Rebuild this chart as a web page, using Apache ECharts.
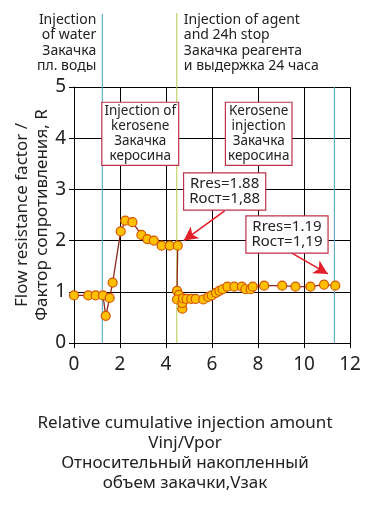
<!DOCTYPE html>
<html>
<head>
<meta charset="utf-8">
<script src="https://cdn.jsdelivr.net/npm/echarts@6/dist/echarts.min.js"></script>
<style>
html,body{margin:0;padding:0;background:#fff;}
#c{width:370px;height:511px;}
</style>
</head>
<body>
<div id="c"></div>
<script>
// ---- data ----
const xValues = [0, 0.62, 0.94, 1.26, 1.38, 1.55, 1.68, 2.03, 2.23, 2.54, 2.93, 3.19, 3.47, 3.81, 4.16, 4.51,
  4.48, 4.57, 4.48, 4.71, 4.71, 4.74, 4.89, 5.10, 5.29, 5.62, 5.84, 5.99, 6.17, 6.32, 6.46, 6.67, 6.97, 7.30,
  7.45, 7.68, 7.77, 8.27, 9.05, 9.63, 10.28, 10.87, 11.36];
const yValues = [0.93, 0.93, 0.93, 0.93, 0.53, 0.88, 1.18, 2.18, 2.39, 2.36, 2.11, 2.03, 2.00, 1.90, 1.90, 1.90,
  1.02, 0.94, 0.85, 0.67, 0.78, 0.87, 0.86, 0.86, 0.86, 0.85, 0.90, 0.93, 0.98, 1.02, 1.05, 1.10, 1.10, 1.10,
  1.05, 1.05, 1.10, 1.12, 1.12, 1.10, 1.10, 1.14, 1.12];
const xTicks = {min: 0, max: 12, interval: 2};
const yTicks = {min: 0, max: 5, interval: 1};
const stageLines = [1.23, 4.47, 11.32];
const yTitle = ['Flow resistance factor /', 'Фактор сопротивления, R'];
const xTitle = ['Relative cumulative injection amount', 'Vinj/Vpor', 'Относительный накопленный', 'объем закачки,Vзак'];
const topLeftText = ['Injection', 'of water', 'Закачка', 'пл. воды'];
const topRightText = ['Injection of agent', 'and 24h stop', 'Закачка реагента', 'и выдержка 24 часа'];
const boxTexts = [
  ['Injection of', 'kerosene', 'Закачка', 'керосина'],
  ['Kerosene', 'injection', 'Закачка', 'керосина'],
  ['Rres=1.88', 'Rост=1,88'],
  ['Rres=1.19', 'Rост=1,19']
];
const boxAnchors = [[2.88, 4.69], [8.03, 4.69], [6.55, 3.31], [9.26, 2.47]];
const arrows = [[[6.55, 2.58], [4.77, 2.0]], [[9.38, 1.78], [11.04, 1.35]]];

const FONT = '"Noto Sans", "Open Sans", sans-serif';
const chart = echarts.init(document.getElementById('c'));
const data = xValues.map((x, i) => [x, yValues[i]]);

chart.setOption({
  animation: false,
  backgroundColor: '#fff',
  grid: {left: 74, right: 20, top: 87, bottom: 168, containLabel: false, outerBoundsMode: 'none'},
  xAxis: {
    type: 'value', min: xTicks.min, max: xTicks.max, interval: xTicks.interval,
    axisLine: {lineStyle: {color: '#000', width: 1}},
    axisTick: {show: true, length: 5, lineStyle: {color: '#000'}},
    axisLabel: {color: '#222', fontSize: 19, fontFamily: FONT, margin: 12},
    splitLine: {show: true, lineStyle: {color: '#000', width: 1}}
  },
  yAxis: {
    type: 'value', min: yTicks.min, max: yTicks.max, interval: yTicks.interval,
    name: yTitle.join('\n'), nameLocation: 'middle', nameRotate: 90, nameGap: 22, nameMoveOverlap: false,
    nameTextStyle: {color: '#222', fontSize: 17, fontFamily: FONT, lineHeight: 20},
    axisLine: {show: true, lineStyle: {color: '#000', width: 1}},
    axisTick: {show: true, length: 5, lineStyle: {color: '#000'}},
    axisLabel: {color: '#222', fontSize: 19, fontFamily: FONT, margin: 8},
    splitLine: {show: true, lineStyle: {color: '#000', width: 1}}
  },
  series: [{
    type: 'line', data: data, z: 5,
    symbol: 'circle', symbolSize: 9,
    lineStyle: {color: '#8B2A1E', width: 1.3},
    itemStyle: {color: '#FFC000', borderColor: '#D35400', borderWidth: 1.2},
    markLine: {
      silent: true, symbol: ['none', 'arrow'], symbolSize: [11, 14],
      label: {show: false},
      lineStyle: {color: '#E3202A', width: 1.6, type: 'solid'},
      data: arrows.map(a => [{coord: a[0]}, {coord: a[1]}])
    }
  }]
});

function P(x, y) { return chart.convertToPixel({gridIndex: 0}, [x, y]); }
const graphics = [];
const lineColors = ['#4BA3C3', '#B8C94A', '#4BA3C3'];
const lineTops = [14, 13, null];
stageLines.forEach((x, i) => {
  const bottom = P(x, yTicks.min);
  const top = P(x, yTicks.max);
  graphics.push({type: 'line', z: 1, silent: true,
    shape: {x1: bottom[0], y1: lineTops[i] == null ? top[1] : lineTops[i], x2: bottom[0], y2: bottom[1]},
    style: {stroke: lineColors[i], lineWidth: 1}});
});
const lp = P(stageLines[0], 0), rp = P(stageLines[1], 0);
graphics.push({type: 'text', z: 10, style: {text: topLeftText.join('\n'), x: lp[0] - 6, y: 12,
  align: 'right', verticalAlign: 'top', font: '14px ' + FONT, lineHeight: 15.5, fill: '#222'}});
graphics.push({type: 'text', z: 10, style: {text: topRightText.join('\n'), x: rp[0] + 7, y: 12,
  align: 'left', verticalAlign: 'top', font: '14px ' + FONT, lineHeight: 15.5, fill: '#222'}});
boxTexts.forEach((t, i) => {
  const p = P(boxAnchors[i][0], boxAnchors[i][1]);
  const big = t.length === 2;
  graphics.push({type: 'text', z: 10, style: {text: t.join('\n'), x: p[0], y: p[1],
    align: 'center', verticalAlign: 'top', font: (big ? '15px ' : '13.5px ') + FONT,
    lineHeight: 15, fill: '#222',
    backgroundColor: '#fff', borderColor: '#C0304A', borderWidth: 1.2,
    padding: big ? [3, 5, 3, 5] : [1, 2, 1, 2]}});
});
graphics.push({type: 'text', z: 10, style: {text: xTitle.join('\n'), x: 185, y: 413,
  align: 'center', verticalAlign: 'top', font: '17px ' + FONT, lineHeight: 20, fill: '#222'}});
chart.setOption({graphic: graphics});
</script>
</body>
</html>
